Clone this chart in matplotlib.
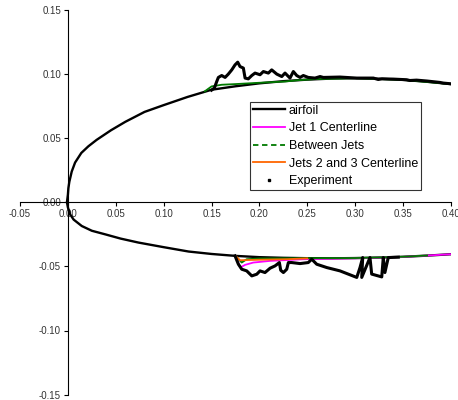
import numpy as np
import matplotlib
matplotlib.use("Agg")
import matplotlib.pyplot as plt
from matplotlib.lines import Line2D

plt.rcParams['font.family'] = ['Liberation Sans', 'DejaVu Sans']

# airfoil outline, trailing edge upper -> leading edge -> trailing edge lower
airfoil_x = [0.40, 0.375, 0.35, 0.325, 0.30, 0.275, 0.25, 0.225, 0.20, 0.175, 0.15, 0.125,
             0.10, 0.08, 0.06, 0.045, 0.03, 0.0214, 0.014, 0.0075, 0.004, 0.0015, 0.0005,
             0.0, -0.001,
             0.0, 0.0023, 0.006, 0.0145, 0.025, 0.039, 0.055, 0.0736, 0.10, 0.126, 0.15,
             0.175, 0.20, 0.225, 0.25, 0.275, 0.30, 0.325, 0.35, 0.375, 0.40]
airfoil_y = [0.0922, 0.0940, 0.0955, 0.0964, 0.0968, 0.0965, 0.0957, 0.0945, 0.0928, 0.0905,
             0.0878, 0.0822, 0.0758, 0.0705, 0.0628, 0.0562, 0.0487, 0.0437, 0.0385, 0.031,
             0.024, 0.016, 0.011, 0.006, 0.0,
             -0.004, -0.0094, -0.0135, -0.0185, -0.0222, -0.025, -0.0283, -0.0314, -0.035,
             -0.0384, -0.0403, -0.0418, -0.0428, -0.0433, -0.0436, -0.0437, -0.0435, -0.0431,
             -0.0425, -0.0416, -0.0405]

# jet 1 centerline (lower surface)
jet1_x = [0.175, 0.18, 0.185, 0.1936, 0.211, 0.2458, 0.30, 0.35, 0.40]
jet1_y = [-0.0418, -0.0509, -0.0488, -0.047, -0.0457, -0.0444, -0.0437, -0.0426, -0.0405]

# between jets (upper, then lower)
between_x = [0.143, 0.150, 0.1606, 0.1745, 0.1989, 0.2267, 0.240, 0.26, 0.30, 0.35, 0.40,
             np.nan, 0.175, 0.1815, 0.1867, 0.20, 0.25, 0.30, 0.35, 0.375]
between_y = [0.0866, 0.0904, 0.0917, 0.0922, 0.0932, 0.0942, 0.0952, 0.0962, 0.0968, 0.0955, 0.0922,
             np.nan, -0.0418, -0.047, -0.0444, -0.0438, -0.0436, -0.0435, -0.0425, -0.0415]

# jets 2 and 3 centerline (lower surface)
jets23_x = [0.176, 0.1796, 0.20, 0.2285, 0.24, 0.25]
jets23_y = [-0.0425, -0.0452, -0.0448, -0.0444, -0.0440, -0.0437]

# experiment, upper surface
exp_up_x = [0.150, 0.1529, 0.1554, 0.1571, 0.1606, 0.1641, 0.1675, 0.1711, 0.1745, 0.1773,
            0.1797, 0.1832, 0.1850, 0.1884, 0.1920, 0.1954, 0.2006, 0.2041, 0.2093, 0.2128,
            0.2181, 0.2233, 0.2267, 0.2319, 0.2354, 0.2389, 0.2424, 0.2458, 0.2510, 0.2580,
            0.2633, 0.2667, 0.284, 0.3016, 0.319, 0.324, 0.328, 0.3398, 0.3538, 0.357, 0.364,
            0.375, 0.3885, 0.392, 0.399]
exp_up_y = [0.0875, 0.0891, 0.0942, 0.0974, 0.0989, 0.0974, 0.1000, 0.1033, 0.1072, 0.1093,
            0.1059, 0.1047, 0.0969, 0.0963, 0.0989, 0.1008, 0.0995, 0.1020, 0.1008, 0.1033,
            0.1000, 0.0981, 0.1008, 0.0969, 0.1020, 0.0989, 0.0974, 0.0989, 0.0974, 0.0969,
            0.0981, 0.0974, 0.0977, 0.0969, 0.0969, 0.0958, 0.0963, 0.0961, 0.0956, 0.0950,
            0.0953, 0.0946, 0.0935, 0.0930, 0.0925]

# experiment, lower surface
exp_lo_x = [0.1745, 0.178, 0.1815, 0.1867, 0.192, 0.1972, 0.2006, 0.2058, 0.2111, 0.2163,
            0.2208, 0.2222, 0.225, 0.2285, 0.2302, 0.2337, 0.2424, 0.251, 0.2546, 0.2598,
            0.2703, 0.2841, 0.3016, 0.305, 0.3078, 0.3068, 0.3154, 0.3172, 0.3277, 0.3293,
            0.331, 0.3345, 0.345]
exp_lo_y = [-0.0418, -0.0483, -0.0522, -0.0535, -0.0574, -0.0561, -0.0535, -0.0548, -0.0514,
            -0.0496, -0.047, -0.053, -0.0548, -0.0522, -0.047, -0.047, -0.0478, -0.047, -0.0444,
            -0.0483, -0.0509, -0.0535, -0.0586, -0.0509, -0.0431, -0.0586, -0.0431, -0.056,
            -0.0582, -0.0431, -0.0548, -0.0431, -0.0428]

x_ticks = [-0.05, 0.00, 0.05, 0.10, 0.15, 0.20, 0.25, 0.30, 0.35, 0.40]
y_ticks = [-0.15, -0.10, -0.05, 0.00, 0.05, 0.10, 0.15]

fig = plt.figure(figsize=(4.58, 4.00), dpi=100)
ax = fig.add_axes([0.0437, 0.0135, 0.941, 0.9615])

ax.plot(airfoil_x, airfoil_y, color='black', lw=1.7, solid_joinstyle='round')
ax.plot(jet1_x, jet1_y, color='#ff00ff', lw=1.3)
ax.plot(between_x, between_y, color='#007a00', lw=1.3)
ax.plot(jets23_x, jets23_y, color='#ff6600', lw=1.3)
ax.plot(exp_up_x, exp_up_y, color='black', lw=2.2, solid_joinstyle='round')
ax.plot(exp_lo_x, exp_lo_y, color='black', lw=2.2, solid_joinstyle='round')

ax.set_xlim(-0.05, 0.40)
ax.set_ylim(-0.15, 0.15)
ax.set_xticks(x_ticks)
ax.set_yticks(y_ticks)
ax.xaxis.set_major_formatter(plt.FormatStrFormatter('%.2f'))
ax.yaxis.set_major_formatter(plt.FormatStrFormatter('%.2f'))

ax.spines['left'].set_position(('data', 0))
ax.spines['bottom'].set_position(('data', 0))
ax.spines['top'].set_visible(False)
ax.spines['right'].set_visible(False)
for s in ['left', 'bottom']:
    ax.spines[s].set_linewidth(0.8)
ax.tick_params(direction='out', length=3, width=0.8, labelsize=7, colors='black',
               labelcolor='#333333', pad=2)
ax.set_facecolor('none')

handles = [
    Line2D([], [], color='black', lw=1.7),
    Line2D([], [], color='#ff00ff', lw=1.3),
    Line2D([], [], color='#007a00', lw=1.3, ls=(0, (3, 2))),
    Line2D([], [], color='#ff6600', lw=1.3),
    Line2D([], [], color='black', ls='none', marker='s', markersize=1.5),
]
labels = ['airfoil', 'Jet 1 Centerline', 'Between Jets', 'Jets 2 and 3 Centerline', 'Experiment']
leg = ax.legend(handles, labels, loc='upper left', bbox_to_anchor=(0.534, 0.7615),
                fontsize=9, frameon=True, fancybox=False, handlelength=2.5,
                handletextpad=0.35, borderpad=0.25, labelspacing=0.45, borderaxespad=0)
leg.get_frame().set_edgecolor('black')
leg.get_frame().set_linewidth(0.8)

fig.savefig('out.png', dpi=100)
